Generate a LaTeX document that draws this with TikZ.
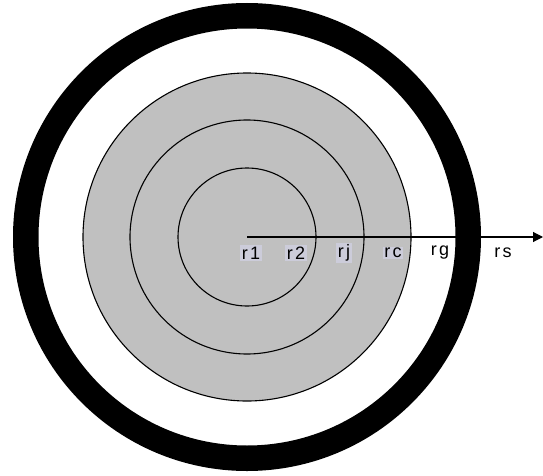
\documentclass[tikz,border=0pt]{standalone}
\usepackage{fontspec}
\setmainfont{Liberation Sans}
\usetikzlibrary{arrows.meta}
\definecolor{fillgray}{RGB}{192,192,192}
\definecolor{labbg}{RGB}{204,204,218}
\begin{document}
\begin{tikzpicture}[x=1pt,y=1pt,
  ringline/.style={draw=black,line width=1.1pt},
  lab/.style={font=\fontsize{18}{18}\selectfont\addfontfeature{LetterSpace=12},inner sep=1.5pt,anchor=center},
  hilab/.style={lab,fill=labbg}]
\useasboundingbox (0,0) rectangle (543,475);
\coordinate (c) at (247,238);
% black ring
\fill[black,even odd rule] (c) circle (234) (c) circle (208.5);
% gray disc and circles
\filldraw[fill=fillgray,ringline] (c) circle (164);
\draw[ringline] (c) circle (117);
\draw[ringline] (c) circle (69);
% labels
\node[hilab] (r1) at (251,222) {r1};
\node[hilab] (r2) at (296,222) {r2};
\node[hilab] (rj) at (344,222) {rj};
\node[hilab] (rc) at (393,222) {rc};
\node[lab] (rg) at (440,222) {rg};
\node[lab] (rs) at (503,222) {rs};
% arrow
\coordinate (e) at (543,238);
\draw[line width=1.1pt,-{Triangle[length=10pt,width=10pt]}] (c) -- (e);
\end{tikzpicture}
\end{document}
